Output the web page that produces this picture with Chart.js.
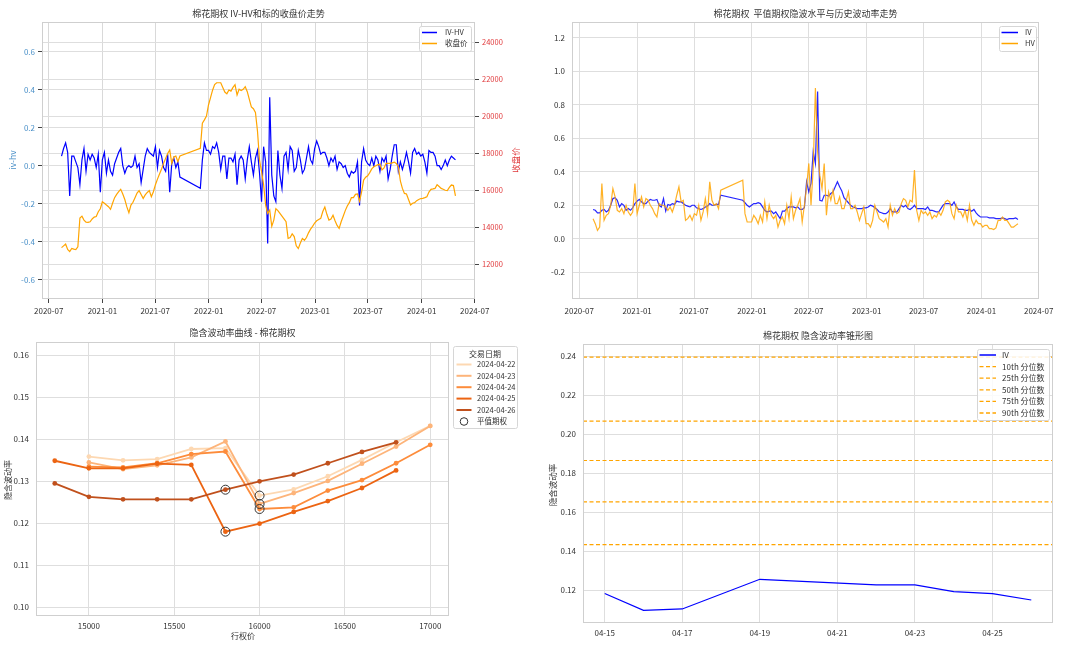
<!DOCTYPE html>
<html><head><meta charset="utf-8">
<script src="https://cdn.jsdelivr.net/npm/chart.js@4.4.1/dist/chart.umd.min.js"></script>
<style>
html,body{margin:0;padding:0;background:#fff;}
#wrap{position:relative;width:1080px;height:646px;overflow:hidden;background:#fff;}
canvas{position:absolute;left:0;top:0;}
</style></head><body>
<div id="wrap">
<canvas id="c1" width="1080" height="646"></canvas>
<canvas id="c2" width="1080" height="646"></canvas>
<canvas id="c3" width="1080" height="646"></canvas>
<canvas id="c4" width="1080" height="646"></canvas>
</div>
<script>
// ---------------- DATA ----------------
const dates = [
'2020-08-14','2020-08-21','2020-08-28','2020-09-04','2020-09-11','2020-09-18','2020-09-25','2020-10-02','2020-10-09','2020-10-16',
'2020-10-23','2020-10-30','2020-11-06','2020-11-13','2020-11-20','2020-11-27','2020-12-04','2020-12-11','2020-12-18','2020-12-25',
'2021-01-01','2021-01-08','2021-01-15','2021-01-22','2021-01-29','2021-02-05','2021-02-12','2021-02-19','2021-02-26','2021-03-05',
'2021-03-12','2021-03-19','2021-03-26','2021-04-02','2021-04-09','2021-04-16','2021-04-23','2021-04-30','2021-05-07','2021-05-14',
'2021-05-21','2021-05-28','2021-06-04','2021-06-11','2021-06-18','2021-06-25','2021-07-02','2021-07-09','2021-07-16','2021-07-23',
'2021-07-30','2021-08-06','2021-08-13','2021-08-20','2021-08-27','2021-09-03','2021-09-10','2021-09-17','2021-09-24',
'2021-12-03','2021-12-10','2021-12-17','2021-12-24','2021-12-31','2022-01-07','2022-01-14','2022-01-21','2022-01-28','2022-02-04',
'2022-02-11','2022-02-18','2022-02-25','2022-03-04','2022-03-11','2022-03-18','2022-03-25','2022-04-01','2022-04-08','2022-04-15',
'2022-04-22','2022-04-29','2022-05-06','2022-05-13','2022-05-20','2022-05-27','2022-06-03','2022-06-10','2022-06-17','2022-06-24',
'2022-07-01','2022-07-08','2022-07-15','2022-07-22','2022-07-29','2022-08-05','2022-08-12','2022-08-19','2022-08-26','2022-09-02',
'2022-09-09','2022-09-16','2022-09-23','2022-09-30','2022-10-07','2022-10-14','2022-10-21','2022-10-28','2022-11-04','2022-11-11',
'2022-11-18','2022-11-25','2022-12-02','2022-12-09','2022-12-16','2022-12-23','2022-12-30','2023-01-06','2023-01-13','2023-01-20',
'2023-01-27','2023-02-03','2023-02-10','2023-02-17','2023-02-24','2023-03-03','2023-03-10','2023-03-17','2023-03-24','2023-03-31',
'2023-04-07','2023-04-14','2023-04-21','2023-04-28','2023-05-05','2023-05-12','2023-05-19','2023-05-26','2023-06-02','2023-06-09',
'2023-06-16','2023-06-23','2023-06-30','2023-07-07','2023-07-14','2023-07-21','2023-07-28','2023-08-04','2023-08-11','2023-08-18',
'2023-08-25','2023-09-01','2023-09-08','2023-09-15','2023-09-22','2023-09-29','2023-10-06','2023-10-13','2023-10-20','2023-10-27',
'2023-11-03','2023-11-10','2023-11-17','2023-11-24','2023-12-01','2023-12-08','2023-12-15','2023-12-22','2023-12-29','2024-01-05',
'2024-01-12','2024-01-19','2024-01-26','2024-02-02','2024-02-09','2024-02-16','2024-02-23','2024-03-01','2024-03-08','2024-03-15',
'2024-03-22','2024-03-29','2024-04-05','2024-04-12','2024-04-19','2024-04-26'
];

const ivHv = [
0.05,0.09,0.12,0.07,-0.16,0.05,0.05,0.02,-0.01,-0.10,
0.03,0.09,-0.03,0.06,0.03,0.06,0.04,-0.01,0.06,-0.14,
0.03,0.07,-0.04,0.03,-0.03,-0.05,0.01,0.04,0.07,0.09,
0.0,-0.04,-0.01,0.0,-0.01,0.0,0.05,-0.01,0.01,-0.09,
-0.02,0.05,0.09,0.07,0.06,0.05,0.10,-0.01,0.08,0.05,
-0.01,-0.03,0.06,-0.14,0.01,0.04,-0.01,0.02,-0.06,
-0.12,0.03,0.12,0.08,0.08,0.06,0.10,0.09,0.12,0.07,
-0.02,0.05,0.05,-0.07,0.04,0.04,0.02,0.06,-0.10,0.03,
0.05,0.03,-0.07,0.03,0.10,0.02,-0.05,0.04,0.08,-0.04,
-0.19,0.10,0.02,-0.41,0.36,-0.05,-0.16,-0.19,0.08,-0.05,
-0.12,0.05,0.07,-0.02,0.10,0.08,-0.03,-0.01,0.08,0.03,
-0.04,-0.02,0.04,0.10,0.03,0.01,0.09,0.13,0.10,0.06,
0.07,0.07,0.04,0.0,0.04,0.02,0.05,-0.02,0.02,0.01,
-0.01,0.0,-0.04,-0.06,-0.03,-0.04,-0.03,0.02,-0.21,0.02,
0.09,0.03,0.01,0.0,0.04,0.0,0.05,0.03,-0.03,0.04,
0.02,0.05,-0.07,-0.02,0.05,0.11,0.11,-0.03,0.02,-0.02,
0.02,0.07,0.02,-0.04,0.07,0.09,0.06,0.07,0.05,0.06,
0.02,-0.04,0.08,0.07,0.07,0.05,0.0,0.0,-0.02,0.0,
0.03,0.0,0.03,0.05,0.04,0.03
];

const closePrice = [
12900,13000,13100,12800,12690,12860,12820,12800,12950,14500,
14600,14390,14280,14270,14300,14450,14550,14580,14840,15000,
15380,15300,15200,15110,14970,15300,15600,15780,15920,16050,
15800,15500,15100,14790,15200,15350,15600,15850,15980,15770,
15560,15750,15880,15980,15650,15920,16300,16600,16880,17150,
17450,17720,17980,18170,17450,17800,17850,17540,17850,
18260,19620,19800,20000,20600,21000,21400,21700,21800,21800,
21800,21550,21300,21200,21410,21350,21550,21700,21140,21450,
21380,21450,21590,21320,20900,20500,20400,20200,19200,17630,
17000,16300,15200,14750,14930,14050,14390,15000,14900,14750,
14600,14450,14300,13400,13450,13650,13500,13000,12850,13150,
13400,13300,13450,13700,13900,14050,14230,14350,14420,14480,
14850,15090,14700,14390,14450,14650,14350,14100,13940,14300,
14600,14900,15150,15330,15600,15600,15780,15800,15400,15900,
16550,16700,16780,16950,17150,17270,17320,17380,17400,17100,
17200,17450,17450,17450,17480,17520,17450,17270,16500,16100,
15830,15800,15500,15200,15300,15330,15440,15500,15550,15560,
15600,15650,15900,16050,16070,16100,16300,16200,16100,16050,
16000,15980,16150,16280,16250,15700
];

const ivAtm = [
0.175,0.17,0.155,0.155,0.17,0.175,0.16,0.17,0.20,0.24,
0.245,0.23,0.19,0.21,0.20,0.17,0.18,0.17,0.185,0.21,
0.225,0.235,0.22,0.21,0.21,0.225,0.235,0.23,0.23,0.235,
0.20,0.19,0.24,0.165,0.205,0.20,0.21,0.205,0.225,0.22,
0.22,0.21,0.20,0.195,0.19,0.20,0.20,0.185,0.18,0.175,
0.18,0.19,0.195,0.21,0.20,0.20,0.205,0.205,0.26,
0.23,0.215,0.20,0.19,0.20,0.21,0.21,0.215,0.21,0.19,
0.17,0.16,0.165,0.165,0.15,0.16,0.14,0.12,0.165,0.165,
0.18,0.19,0.19,0.19,0.185,0.19,0.175,0.175,0.185,0.34,
0.28,0.33,0.52,0.45,0.88,0.23,0.225,0.26,0.26,0.255,
0.27,0.28,0.31,0.34,0.31,0.285,0.245,0.23,0.215,0.20,
0.19,0.185,0.18,0.18,0.18,0.185,0.185,0.19,0.20,0.195,
0.185,0.175,0.16,0.155,0.15,0.15,0.16,0.18,0.16,0.16,
0.16,0.18,0.20,0.19,0.20,0.18,0.175,0.185,0.20,0.18,
0.18,0.18,0.18,0.175,0.19,0.17,0.17,0.165,0.16,0.16,
0.18,0.20,0.21,0.21,0.21,0.20,0.22,0.19,0.175,0.175,
0.175,0.17,0.17,0.175,0.165,0.175,0.155,0.14,0.13,0.13,
0.13,0.13,0.125,0.125,0.125,0.12,0.12,0.12,0.125,0.12,
0.115,0.12,0.12,0.12,0.125,0.115
];

const hvHist = [
0.12,0.09,0.05,0.07,0.33,0.11,0.14,0.15,0.20,0.30,
0.25,0.17,0.16,0.18,0.15,0.20,0.16,0.14,0.16,0.33,
0.15,0.20,0.25,0.19,0.24,0.23,0.20,0.18,0.15,0.13,
0.21,0.20,0.20,0.19,0.17,0.19,0.16,0.20,0.26,0.31,
0.22,0.23,0.11,0.12,0.14,0.11,0.15,0.14,0.20,0.11,
0.16,0.24,0.15,0.34,0.23,0.20,0.21,0.18,0.29,
0.35,0.15,0.10,0.10,0.10,0.14,0.12,0.09,0.14,0.10,
0.22,0.12,0.20,0.14,0.12,0.14,0.07,0.11,0.13,0.09,
0.20,0.12,0.25,0.12,0.17,0.20,0.24,0.10,0.20,0.31,
0.45,0.20,0.42,0.90,0.52,0.38,0.30,0.45,0.14,0.28,
0.23,0.29,0.21,0.21,0.25,0.18,0.18,0.23,0.28,0.18,
0.18,0.20,0.16,0.11,0.15,0.19,0.09,0.09,0.07,0.11,
0.20,0.16,0.12,0.11,0.10,0.12,0.07,0.20,0.14,0.18,
0.15,0.16,0.21,0.24,0.23,0.19,0.23,0.22,0.41,0.17,
0.11,0.17,0.15,0.16,0.14,0.16,0.12,0.14,0.13,0.16,
0.14,0.17,0.22,0.23,0.22,0.15,0.12,0.20,0.16,0.16,
0.13,0.17,0.11,0.20,0.11,0.08,0.11,0.09,0.09,0.07,
0.08,0.08,0.06,0.06,0.055,0.065,0.11,0.11,0.13,0.11,
0.11,0.09,0.07,0.07,0.08,0.09
];

const timeTicks = ['2020-07','2021-01','2021-07','2022-01','2022-07','2023-01','2023-07','2024-01','2024-07'];
const ivHvTicks = [-0.6,-0.4,-0.2,0,0.2,0.4,0.6];
const closeTicks = [12000,14000,16000,18000,20000,22000,24000];
const volTicks = [-0.2,0,0.2,0.4,0.6,0.8,1.0,1.2];

// Smile
const strikes = [14800,15000,15200,15400,15600,15800,16000,16200,16400,16600,16800,17000];
const tradeDates = ['2024-04-22','2024-04-23','2024-04-24','2024-04-25','2024-04-26'];
const smile0422 = [null,0.1359,0.1350,0.1353,0.1377,0.1379,0.1266,0.1281,0.1312,0.1351,0.1393,0.1432];
const smile0423 = [null,0.1345,0.1329,0.1338,0.1357,0.1395,0.1246,0.1272,0.1301,0.1342,0.1383,0.1432];
const smile0424 = [null,0.1335,0.1333,0.1343,0.1365,0.1371,0.1234,0.1238,0.1278,0.1303,0.1343,0.1387];
const smile0425 = [0.1349,0.1331,0.1331,0.1342,0.1339,0.1180,0.1199,0.1227,0.1253,0.1284,0.1326,null];
const smile0426 = [0.1295,0.1263,0.1257,0.1257,0.1257,0.1280,0.1300,0.1316,0.1343,0.1370,0.1393,null];
const atmStrike = [16000,16000,16000,15800,15800];
const atmIv = [0.1266,0.1246,0.1234,0.1180,0.1280];
const smileXTicks = [15000,15500,16000,16500,17000];
const smileYTicks = [0.10,0.11,0.12,0.13,0.14,0.15,0.16];

// Cone
const coneDates = ['2024-04-15','2024-04-16','2024-04-17','2024-04-19','2024-04-22','2024-04-23','2024-04-24','2024-04-25','2024-04-26'];
const coneIv = [0.1183,0.1097,0.1104,0.1256,0.1227,0.1227,0.1193,0.1183,0.1150];
const quantileNames = ['10th 分位数','25th 分位数','50th 分位数','75th 分位数','90th 分位数'];
const quantileVals = [0.1434,0.1653,0.1865,0.2067,0.2395];
const coneXTicks = ['04-15','04-17','04-19','04-21','04-23','04-25'];
const coneYTicks = [0.12,0.14,0.16,0.18,0.20,0.22,0.24];

// ---------------- HELPERS ----------------
const FONT = '"Noto Sans CJK SC","Noto Sans",sans-serif';
Chart.defaults.font.family = FONT;
Chart.defaults.font.size = 8;
Chart.defaults.color = '#333';
const DAY = 86400000;
const ts = s => Date.parse(s + 'T00:00:00Z');
const GRID = '#dedede';
const BLUE = '#0000ff';
const ORANGE = '#ffa500';

function fixTicks(vals){ return s => { s.ticks = vals.map(v => ({value: v})); }; }
function w(n){ return s => { s.width = n; }; }
function h(n){ return s => { s.height = n; }; }

function rr(ctx,x,y,wd,ht,r){
  ctx.beginPath();
  ctx.moveTo(x+r,y); ctx.lineTo(x+wd-r,y); ctx.quadraticCurveTo(x+wd,y,x+wd,y+r);
  ctx.lineTo(x+wd,y+ht-r); ctx.quadraticCurveTo(x+wd,y+ht,x+wd-r,y+ht);
  ctx.lineTo(x+r,y+ht); ctx.quadraticCurveTo(x,y+ht,x,y+ht-r);
  ctx.lineTo(x,y+r); ctx.quadraticCurveTo(x,y,x+r,y); ctx.closePath();
}

function deco(spec){
  return {
    id: 'deco',
    afterDraw(chart){
      const ctx = chart.ctx, a = chart.chartArea;
      ctx.save();
      ctx.strokeStyle = '#cfcfcf'; ctx.lineWidth = 1;
      ctx.strokeRect(Math.round(a.left)+0.5, Math.round(a.top)+0.5, Math.round(a.right-a.left)-1, Math.round(a.bottom-a.top)-1);
      ctx.fillStyle = '#333'; ctx.textAlign = 'center'; ctx.textBaseline = 'middle';
      ctx.font = '9px ' + FONT;
      ctx.fillText(spec.title, (a.left+a.right)/2, spec.titleY);
      (spec.axisTitles||[]).forEach(t => {
        ctx.save(); ctx.translate(t.x, t.y); ctx.rotate(t.rot||0);
        ctx.fillStyle = t.color || '#333'; ctx.font = (t.size||8) + 'px ' + FONT;
        ctx.textAlign='center'; ctx.textBaseline='middle';
        ctx.fillText(t.text, 0, 0); ctx.restore();
      });
      const L = spec.legend;
      if (L){
        rr(ctx, L.x+0.5, L.y+0.5, L.w, L.h, 2);
        ctx.fillStyle = 'rgba(255,255,255,0.85)'; ctx.fill();
        ctx.strokeStyle = '#d6d6d6'; ctx.lineWidth = 1; ctx.stroke();
        ctx.font = (L.size||7.5) + 'px ' + FONT; ctx.textBaseline = 'middle';
        if (L.title){ ctx.textAlign='center'; ctx.fillStyle='#333'; ctx.font = '8px ' + FONT; ctx.fillText(L.title, L.titleX, L.titleY); ctx.font = (L.size||7.5) + 'px ' + FONT; }
        ctx.textAlign = 'left';
        L.items.forEach((it,i) => {
          const y = L.rows[i];
          if (it.type === 'circle'){
            ctx.beginPath(); ctx.arc((L.x0+L.x1)/2, y, it.r, 0, Math.PI*2);
            ctx.strokeStyle = it.color; ctx.lineWidth = 1; ctx.stroke();
          } else {
            ctx.beginPath(); ctx.setLineDash(it.dash||[]);
            ctx.moveTo(L.x0, y); ctx.lineTo(L.x1, y);
            ctx.strokeStyle = it.color; ctx.lineWidth = it.width||1.5; ctx.stroke();
            ctx.setLineDash([]);
          }
          ctx.fillStyle = '#333'; ctx.fillText(it.label, L.tx, y);
        });
      }
      ctx.restore();
    }
  };
}

const baseOpts = {responsive:false, animation:false, devicePixelRatio:1, events:[],
  plugins:{legend:{display:false}, title:{display:false}, tooltip:{enabled:false}}};

function timeAxis(){
  return {type:'linear', min: ts('2020-06-08'), max: ts('2024-07-02'),
    afterBuildTicks: s => { s.ticks = timeTicks.map(t => ({value: ts(t + '-01')})); },
    afterFit: h(20),
    ticks:{autoSkip:false, maxRotation:0, padding:3, callback:(v,i)=>timeTicks[i]},
    grid:{color:GRID, lineWidth:1, tickLength:4, tickColor:'rgba(0,0,0,0)'},
    border:{display:false}};
}

// ---------------- CHART 1 ----------------
new Chart(document.getElementById('c1'), {
  type:'line',
  data:{datasets:[
    {label:'收盘价', data: dates.map((d,i)=>({x:ts(d), y:closePrice[i]})), borderColor:ORANGE, borderWidth:1.2, pointRadius:0, yAxisID:'y1', order:0},
    {label:'IV-HV', data: dates.map((d,i)=>({x:ts(d), y:ivHv[i]})), borderColor:BLUE, borderWidth:1.2, pointRadius:0, yAxisID:'y', order:1}
  ]},
  options:Object.assign({}, baseOpts, {
    layout:{padding:{left:2, top:22, right:565, bottom:327}},
    scales:{
      x: Object.assign(timeAxis(), {grid:{color:'#d9d9d9', lineWidth:1, tickLength:4, tickColor:'#444'}}),
      y:{position:'left', min:-0.703, max:0.757, afterBuildTicks:fixTicks(ivHvTicks), afterFit:w(40),
         ticks:{color:'#4a90c8', padding:3, callback:v=>v.toFixed(1)},
         grid:{color:GRID, tickLength:4, tickColor:'#444'}, border:{display:false}},
      y1:{position:'right', min:10130, max:25080, afterBuildTicks:fixTicks(closeTicks), afterFit:w(40),
         ticks:{color:'#e0383a', padding:3, font:{size:7.5}, callback:v=>String(v)},
         grid:{color:GRID, tickLength:4, tickColor:'#444'}, border:{display:false}}
    }
  }),
  plugins:[deco({title:'棉花期权 IV-HV和标的收盘价走势', titleY:14,
    axisTitles:[{text:'iv-hv', x:13, y:160, rot:-Math.PI/2, color:'#4a90c8', size:8.5},
                {text:'收盘价', x:516, y:160, rot:-Math.PI/2, color:'#e0383a', size:8.5}],
    legend:{x:419, y:26, w:52, h:25, x0:422, x1:437, tx:445, rows:[32.5,43.5],
      items:[{color:BLUE,label:'IV-HV'},{color:ORANGE,label:'收盘价'}]}
  })]
});

// ---------------- CHART 2 ----------------
new Chart(document.getElementById('c2'), {
  type:'line',
  data:{datasets:[
    {label:'HV', data: dates.map((d,i)=>({x:ts(d), y:hvHist[i]})), borderColor:'rgba(255,165,0,0.85)', borderWidth:1.2, pointRadius:0, order:0},
    {label:'IV', data: dates.map((d,i)=>({x:ts(d), y:ivAtm[i]})), borderColor:'rgba(0,0,255,0.85)', borderWidth:1.2, pointRadius:0, order:1}
  ]},
  options:Object.assign({}, baseOpts, {
    layout:{padding:{left:532, top:22, right:41, bottom:327}},
    scales:{
      x: timeAxis(),
      y:{min:-0.36, max:1.295, afterBuildTicks:fixTicks(volTicks), afterFit:w(40),
         ticks:{padding:3, callback:v=>v.toFixed(1)},
         grid:{color:GRID, tickLength:4, tickColor:'rgba(0,0,0,0)'}, border:{display:false}}
    }
  }),
  plugins:[deco({title:'棉花期权  平值期权隐波水平与历史波动率走势', titleY:14,
    legend:{x:999, y:26, w:37, h:25, x0:1001.5, x1:1018, tx:1025, rows:[32.5,43.5],
      items:[{color:BLUE,label:'IV'},{color:ORANGE,label:'HV'}]}
  })]
});

// ---------------- CHART 3 ----------------
const smileColors = ['#fdd8b2','#fdb47a','#fd8c3b','#ec6412','#c0501c'];
const smileSeries = [smile0422, smile0423, smile0424, smile0425, smile0426];
const smileSets = smileSeries.map((arr,k)=>({
  label: tradeDates[k],
  data: strikes.map((s,i)=>({x:s, y:arr[i]})).filter(p=>p.y!==null),
  borderColor: smileColors[k], backgroundColor: smileColors[k], borderWidth:1.8,
  pointRadius:2.4, pointBorderColor:smileColors[k], pointBorderWidth:0, order: 10-k
}));
smileSets.push({label:'平值期权', type:'scatter', showLine:false,
  data: atmStrike.map((s,i)=>({x:s, y:atmIv[i]})),
  pointRadius:4.5, pointBorderColor:'#333', pointBackgroundColor:'rgba(0,0,0,0)', pointBorderWidth:1, order:0});
new Chart(document.getElementById('c3'), {
  type:'line',
  data:{datasets:smileSets},
  options:Object.assign({}, baseOpts, {
    layout:{padding:{left:6, top:342, right:631, bottom:10}},
    scales:{
      x:{type:'linear', min:14690, max:17110, afterBuildTicks:fixTicks(smileXTicks), afterFit:h(20),
         ticks:{autoSkip:false, maxRotation:0, padding:1, callback:v=>String(v)},
         grid:{color:GRID, tickLength:4, tickColor:'rgba(0,0,0,0)'}, border:{display:false}},
      y:{min:0.0979, max:0.1632, afterBuildTicks:fixTicks(smileYTicks), afterFit:w(30),
         ticks:{padding:3, callback:v=>v.toFixed(2)},
         grid:{color:GRID, tickLength:4, tickColor:'rgba(0,0,0,0)'}, border:{display:false}}
    }
  }),
  plugins:[deco({title:'隐含波动率曲线 - 棉花期权', titleY:333,
    axisTitles:[{text:'隐含波动率', x:8, y:480, rot:-Math.PI/2},
                {text:'行权价', x:243, y:636}],
    legend:{x:453, y:346, w:64, h:82, title:'交易日期', titleX:485, titleY:353.5,
      x0:456.5, x1:471.5, tx:477, rows:[364.5,375.8,387.2,398.6,410,421.5],
      items:[{color:smileColors[0],label:tradeDates[0],width:2},{color:smileColors[1],label:tradeDates[1],width:2},
             {color:smileColors[2],label:tradeDates[2],width:2},{color:smileColors[3],label:tradeDates[3],width:2},
             {color:smileColors[4],label:tradeDates[4],width:2},{type:'circle',r:3.8,color:'#333',label:'平值期权'}]}
  })]
});

// ---------------- CHART 4 ----------------
const coneMin = ts('2024-04-15') - 0.56*DAY, coneMax = ts('2024-04-26') + 0.56*DAY;
const coneSets = [{label:'IV', data: coneDates.map((d,i)=>({x:ts(d), y:coneIv[i]})),
  borderColor:BLUE, borderWidth:1.2, pointRadius:0, order:5}];
quantileVals.forEach((q,i)=>coneSets.push({label:quantileNames[i],
  data:[{x:coneMin, y:q},{x:coneMax, y:q}], borderColor:ORANGE, borderWidth:1.2,
  borderDash:[4,2.5], pointRadius:0, order:i}));
new Chart(document.getElementById('c4'), {
  type:'line',
  data:{datasets:coneSets},
  options:Object.assign({}, baseOpts, {
    layout:{padding:{left:543, top:344, right:27, bottom:3}},
    scales:{
      x:{type:'linear', min:coneMin, max:coneMax,
         afterBuildTicks: s => { s.ticks = coneXTicks.map(t=>({value: ts('2024-' + t)})); }, afterFit:h(20),
         ticks:{autoSkip:false, maxRotation:0, padding:1, callback:(v,i)=>coneXTicks[i]},
         grid:{color:GRID, tickLength:4, tickColor:'rgba(0,0,0,0)'}, border:{display:false}},
      y:{min:0.1032, max:0.2462, afterBuildTicks:fixTicks(coneYTicks), afterFit:w(40),
         ticks:{padding:3, callback:v=>v.toFixed(2)},
         grid:{color:GRID, tickLength:4, tickColor:'rgba(0,0,0,0)'}, border:{display:false}}
    }
  }),
  plugins:[deco({title:'棉花期权 隐含波动率锥形图', titleY:336,
    axisTitles:[{text:'隐含波动率', x:553, y:485, rot:-Math.PI/2, size:8.5}],
    legend:{x:977, y:349, w:72, h:71, x0:979.5, x1:996, tx:1002, size:8,
      rows:[355,366.6,378.2,389.8,401.4,413],
      items:[{color:BLUE,label:'IV'}].concat(quantileNames.map(n=>({color:ORANGE,label:n,dash:[4,2.5],width:1.3})))}
  })]
});
</script>
</body></html>
